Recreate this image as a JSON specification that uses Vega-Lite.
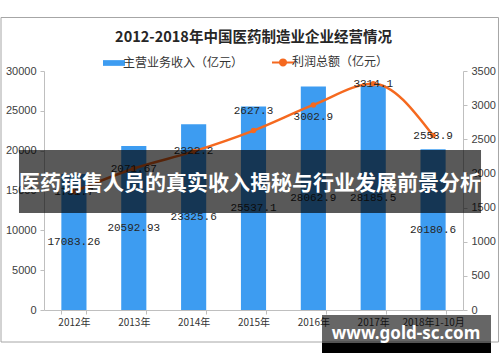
{
  "$schema": "https://vega.github.io/schema/vega-lite/v6.json",
  "width": 419,
  "height": 239,
  "autosize": {"type": "none"},
  "padding": {"left": 44, "top": 71, "right": 37, "bottom": 52},
  "background": "white",
  "title": {
    "text": "2012-2018年中国医药制造业企业经营情况",
    "font": "Noto Sans CJK SC",
    "fontSize": 14.5,
    "fontWeight": "bold",
    "color": "#262626",
    "anchor": "middle",
    "offset": -28
  },
  "config": {
    "view": {"stroke": null},
    "axis": {
      "labelFont": "Liberation Sans",
      "labelFontSize": 11,
      "labelColor": "#404040",
      "domainColor": "#bfbfbf",
      "tickColor": "#bfbfbf",
      "grid": false
    }
  },
  "data": {
    "values": [
      {"year": "2012年", "revenue": 17083.26, "profit": 1731.7},
      {"year": "2013年", "revenue": 20592.93, "profit": 2071.67},
      {"year": "2014年", "revenue": 23325.6, "profit": 2322.2},
      {"year": "2015年", "revenue": 25537.1, "profit": 2627.3},
      {"year": "2016年", "revenue": 28062.9, "profit": 3002.9},
      {"year": "2017年", "revenue": 28185.5, "profit": 3314.1},
      {"year": "2018年1-10月", "revenue": 20180.6, "profit": 2553.9}
    ]
  },
  "resolve": {"scale": {"x": "independent", "y": "independent"}},
  "layer": [
    {
      "encoding": {
        "x": {
          "field": "year",
          "type": "ordinal",
          "sort": null,
          "title": null,
          "scale": {"paddingInner": 0.58, "paddingOuter": 0.29},
          "axis": {
            "labelAngle": 0,
            "tickBand": "extent",
            "labelFont": "Noto Sans CJK SC",
            "labelFontSize": 10,
            "labelColor": "#333333",
            "tickSize": 4,
            "labelPadding": 3
          }
        }
      },
      "resolve": {"scale": {"y": "independent"}},
      "layer": [
        {
          "mark": {"type": "bar"},
          "encoding": {
            "y": {
              "field": "revenue",
              "type": "quantitative",
              "title": null,
              "scale": {"domain": [0, 30000], "nice": false},
              "axis": {"values": [0, 5000, 10000, 15000, 20000, 25000, 30000], "format": "d", "tickSize": 4, "labelPadding": 4}
            },
            "color": {
              "datum": "主营业务收入（亿元）",
              "type": "nominal",
              "scale": {"domain": ["主营业务收入（亿元）", "利润总额（亿元）"], "range": ["#3d9cf1", "#f5691f"]},
              "legend": {
                "orient": "none",
                "legendX": 64,
                "legendY": -15,
                "direction": "horizontal",
                "title": null,
                "labelFont": "Noto Sans CJK SC",
                "labelFontSize": 12,
                "labelColor": "#333333",
                "labelOffset": 3,
                "columnPadding": 24,
                "symbolSize": 484,
                "encode": {
                  "symbols": {
                    "update": {
                      "shape": {"signal": "datum.value === '主营业务收入（亿元）' ? 'M-1,-0.26H1V0.26H-1Z' : 'M-1,0H1M0.28,0A0.28,0.28 0 1,1 -0.28,0A0.28,0.28 0 1,1 0.28,0Z'"},
                      "fill": {"scale": "color", "field": "value"},
                      "stroke": {"scale": "color", "field": "value"},
                      "strokeWidth": {"signal": "datum.value === '主营业务收入（亿元）' ? 0 : 2"},
                      "opacity": {"value": 1},
                      "fillOpacity": {"value": 1}
                    }
                  }
                }
              }
            }
          }
        },
        {
          "mark": {"type": "text", "font": "Liberation Mono", "fontSize": 11, "color": "#262626", "baseline": "middle"},
          "encoding": {
            "y": {"field": "revenue", "type": "quantitative", "scale": {"domain": [0, 60000], "nice": false}, "axis": null},
            "text": {"field": "revenue", "type": "nominal"}
          }
        },
        {
          "mark": {"type": "line", "interpolate": "monotone", "strokeWidth": 2.5, "point": {"filled": true, "size": 30}},
          "encoding": {
            "y": {
              "field": "profit",
              "type": "quantitative",
              "title": null,
              "scale": {"domain": [0, 3500], "nice": false},
              "axis": {"orient": "right", "values": [0, 500, 1000, 1500, 2000, 2500, 3000, 3500], "format": "d", "tickSize": 4, "labelPadding": 4}
            },
            "color": {"datum": "利润总额（亿元）", "type": "nominal"}
          }
        },
        {
          "transform": [{"filter": "datum.year != '2015年' && datum.year != '2016年'"}],
          "mark": {"type": "text", "font": "Liberation Mono", "fontSize": 11, "color": "#262626", "baseline": "middle"},
          "encoding": {
            "y": {"field": "profit", "type": "quantitative", "scale": {"domain": [0, 3500], "nice": false}, "axis": null},
            "text": {"field": "profit", "type": "nominal"}
          }
        },
        {
          "transform": [{"filter": "datum.year == '2015年'"}],
          "mark": {"type": "text", "font": "Liberation Mono", "fontSize": 11, "color": "#262626", "baseline": "middle", "dy": -20},
          "encoding": {
            "y": {"field": "profit", "type": "quantitative", "scale": {"domain": [0, 3500], "nice": false}, "axis": null},
            "text": {"field": "profit", "type": "nominal"}
          }
        },
        {
          "transform": [{"filter": "datum.year == '2016年'"}],
          "mark": {"type": "text", "font": "Liberation Mono", "fontSize": 11, "color": "#262626", "baseline": "middle", "dy": 12},
          "encoding": {
            "y": {"field": "profit", "type": "quantitative", "scale": {"domain": [0, 3500], "nice": false}, "axis": null},
            "text": {"field": "profit", "type": "nominal"}
          }
        }
      ]
    },
    {
      "data": {"values": [{}]},
      "layer": [
        {
          "mark": {"type": "rect", "fill": "transparent", "stroke": "#a6a6a6", "strokeWidth": 1},
          "encoding": {
            "x": {"datum": -0.1026, "type": "quantitative", "scale": {"domain": [0, 1], "nice": false, "zero": false}, "axis": null},
            "x2": {"datum": 1.0847},
            "y": {"datum": 1.2238, "type": "quantitative", "scale": {"domain": [0, 1], "nice": false, "zero": false}, "axis": null},
            "y2": {"datum": -0.1339}
          }
        },
        {
          "mark": {"type": "rect", "fill": "#000000", "opacity": 0.65},
          "encoding": {
            "x": {"datum": -0.0597, "type": "quantitative"},
            "x2": {"datum": 1.043},
            "y": {"datum": 0.6695, "type": "quantitative"},
            "y2": {"datum": 0.4059}
          }
        },
        {
          "mark": {"type": "text", "fill": "#ffffff", "font": "Noto Sans CJK SC", "fontSize": 21, "fontWeight": "bold", "align": "center", "baseline": "middle"},
          "encoding": {
            "x": {"datum": 0.4916, "type": "quantitative"},
            "y": {"datum": 0.527, "type": "quantitative"},
            "text": {"value": "医药销售人员的真实收入揭秘与行业发展前景分析"}
          }
        },
        {
          "mark": {"type": "rect", "fill": "#000000", "opacity": 0.6},
          "encoding": {
            "x": {"datum": 0.6635, "type": "quantitative"},
            "x2": {"datum": 1.0668},
            "y": {"datum": -0.0209, "type": "quantitative"},
            "y2": {"datum": -0.1381}
          }
        },
        {
          "mark": {"type": "rect", "fill": "#000000"},
          "encoding": {
            "x": {"datum": 0.6635, "type": "quantitative"},
            "x2": {"datum": 1.0668},
            "y": {"datum": -0.1381, "type": "quantitative"},
            "y2": {"datum": -0.1799}
          }
        },
        {
          "mark": {"type": "text", "fill": "#ffffff", "font": "Noto Sans", "fontSize": 17, "fontWeight": "bold", "align": "center", "baseline": "middle"},
          "encoding": {
            "x": {"datum": 0.864, "type": "quantitative"},
            "y": {"datum": -0.1004, "type": "quantitative"},
            "text": {"value": "www.gold-sc.com"}
          }
        }
      ]
    }
  ]
}
